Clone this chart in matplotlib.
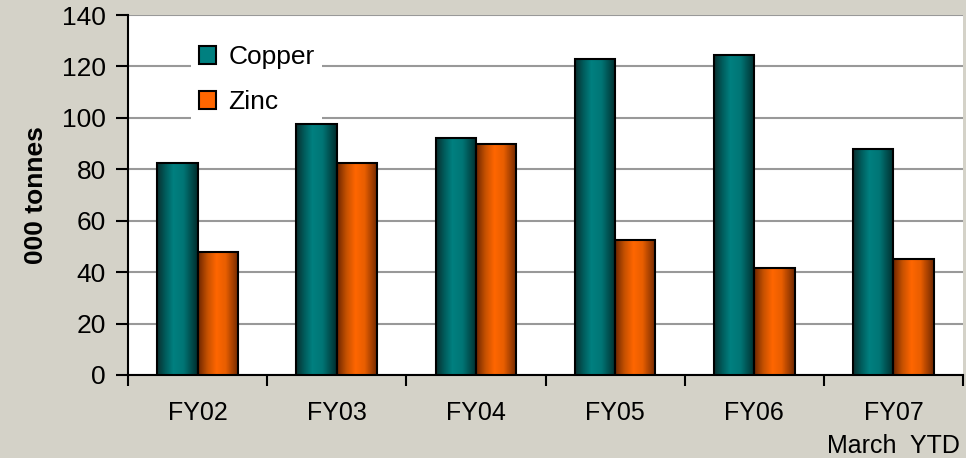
import numpy as np
import matplotlib.pyplot as plt
from matplotlib.colors import LinearSegmentedColormap
from matplotlib.patches import Rectangle

categories = ["FY02", "FY03", "FY04", "FY05", "FY06", "FY07\nMarch  YTD"]
copper = [82.5, 97.5, 92, 123, 124.5, 88]
zinc = [48, 82.5, 90, 52.5, 41.5, 45]
yticks = [0, 20, 40, 60, 80, 100, 120, 140]

plt.rcParams['font.family'] = ['Liberation Sans', 'DejaVu Sans']

bg = '#d4d2c8'
teal_cm = LinearSegmentedColormap.from_list(
    'teal', [(0, '#0a3030'), (0.2, '#005c5c'), (0.4, '#008080'),
             (0.65, '#007575'), (1.0, '#002e2e')])
orange_cm = LinearSegmentedColormap.from_list(
    'orange', [(0, '#6e2600'), (0.22, '#c45000'), (0.45, '#ff6600'),
               (0.68, '#e85e00'), (1.0, '#702800')])

fig = plt.figure(figsize=(9.66, 4.58), dpi=100, facecolor=bg)
ax = fig.add_axes([128 / 966, 83 / 458, 835 / 966, 360 / 458])
ax.set_facecolor('white')

x = np.arange(len(categories))
w = 0.29
b1 = ax.bar(x - w / 2, copper, w, facecolor='none', edgecolor='black', lw=1.5, zorder=4)
b2 = ax.bar(x + w / 2, zinc, w, facecolor='none', edgecolor='black', lw=1.5, zorder=4)

grad = np.linspace(0, 1, 64).reshape(1, -1)
for bars, cm in ((b1, teal_cm), (b2, orange_cm)):
    for p in bars:
        x0, h, bw = p.get_x(), p.get_height(), p.get_width()
        ax.imshow(grad, cmap=cm, aspect='auto', extent=[x0, x0 + bw, 0, h],
                  interpolation='bilinear', zorder=3)

ax.set_xlim(-0.5, len(categories) - 0.5)
ax.set_ylim(0, 140)
ax.set_yticks(yticks)
ax.yaxis.grid(True, color='#999999', lw=1.5, zorder=0)
ax.set_axisbelow(True)

ax.set_xticks(x)
ax.set_xticklabels(categories, fontsize=18, linespacing=1.45)
ax.set_xticks(np.arange(len(categories) + 1) - 0.5, minor=True)
ax.tick_params(axis='x', which='major', length=0, pad=19)
ax.tick_params(axis='x', which='minor', length=8, width=1.5, direction='out')
ax.tick_params(axis='y', labelsize=19, length=9, width=1.5, direction='out', pad=7)

for s in ('top', 'right'):
    ax.spines[s].set_visible(False)
for s in ('left', 'bottom'):
    ax.spines[s].set_linewidth(1.5)

ax.set_ylabel('000 tonnes', fontsize=19, fontweight='bold', labelpad=10)

handles = [Rectangle((0, 0), 1, 1, facecolor='#008080', edgecolor='black', lw=1.5),
           Rectangle((0, 0), 1, 1, facecolor='#ff6600', edgecolor='black', lw=1.5)]
leg = ax.legend(handles, ['Copper', 'Zinc'], loc='upper left',
                bbox_to_anchor=(0.06, 0.975), fontsize=19, frameon=True,
                handlelength=0.65, handleheight=0.65, handletextpad=0.45,
                labelspacing=0.8, borderpad=0.3, fancybox=False)
leg.get_frame().set_edgecolor('none')
leg.get_frame().set_facecolor('white')
leg.get_frame().set_alpha(1)
leg.set_zorder(5)

fig.savefig('out.png', dpi=100, facecolor=bg)
